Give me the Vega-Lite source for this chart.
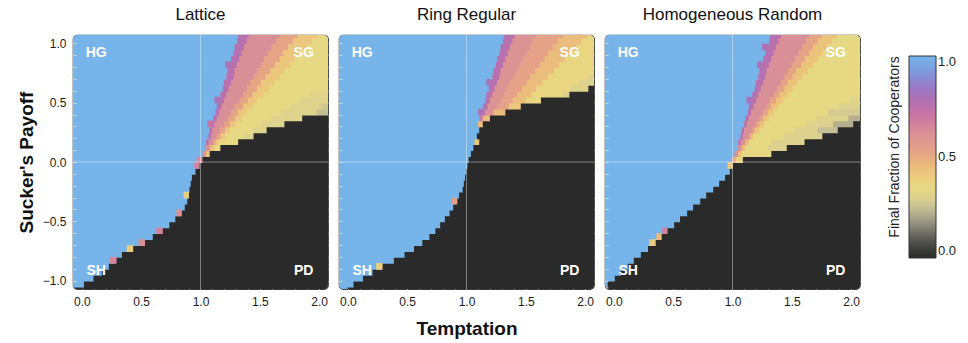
{
  "$schema": "https://vega.github.io/schema/vega-lite/v6.json",
  "padding": {"left": 16, "top": 4, "right": 4, "bottom": 2},
  "spacing": 7,
  "config": {
    "font": "Liberation Sans",
    "view": {"stroke": "#3a3a3a", "strokeWidth": 1.2, "cornerRadius": 4},
    "axis": {"domain": false, "grid": false, "tickColor": "#e8e8e8", "tickOpacity": 0.75, "tickWidth": 1, "labelFont": "Liberation Sans", "labelFontSize": 12, "labelColor": "#1a1a1a", "titleFont": "Liberation Sans", "titleFontSize": 19, "titleFontWeight": "bold", "titleColor": "#111111"},
    "title": {"fontSize": 17, "fontWeight": "normal", "font": "Liberation Sans", "color": "#111111", "offset": 11},
    "legend": {"titleOrient": "left", "titleAnchor": "middle", "titleFontSize": 14, "titleFontWeight": "normal", "titleColor": "#222222", "titlePadding": 6, "titleLimit": 260, "labelFontSize": 13, "labelColor": "#222222", "labelOffset": 8, "gradientLength": 202, "gradientThickness": 27, "gradientStrokeColor": "#333333", "gradientStrokeWidth": 1, "padding": 21, "offset": 5}
  },
  "datasets": {
    "games": [
      {"game": "HG", "t": 0.12, "s": 0.92},
      {"game": "SG", "t": 1.87, "s": 0.92},
      {"game": "SH", "t": 0.12, "s": -0.92},
      {"game": "PD", "t": 1.87, "s": -0.92}
    ],
    "lattice": [
      {"s":-1.1,"t0":-0.1,"t1":-0.06,"v":1},{"s":-1.1,"t0":-0.06,"t1":2.1,"v":0},
      {"s":-1.05,"t0":-0.1,"t1":0.02,"v":1},{"s":-1.05,"t0":0.02,"t1":2.1,"v":0},
      {"s":-1,"t0":-0.1,"t1":0.1,"v":1},{"s":-1,"t0":0.1,"t1":2.1,"v":0},
      {"s":-0.95,"t0":-0.1,"t1":0.17,"v":1},{"s":-0.95,"t0":0.17,"t1":2.1,"v":0},
      {"s":-0.9,"t0":-0.1,"t1":0.23,"v":1},{"s":-0.9,"t0":0.23,"t1":2.1,"v":0},
      {"s":-0.85,"t0":-0.1,"t1":0.28,"v":1},{"s":-0.85,"t0":0.28,"t1":2.1,"v":0},
      {"s":-0.8,"t0":-0.1,"t1":0.34,"v":1},{"s":-0.8,"t0":0.34,"t1":2.1,"v":0},
      {"s":-0.75,"t0":-0.1,"t1":0.43,"v":1},{"s":-0.75,"t0":0.43,"t1":2.1,"v":0},
      {"s":-0.7,"t0":-0.1,"t1":0.52,"v":1},{"s":-0.7,"t0":0.52,"t1":2.1,"v":0},
      {"s":-0.65,"t0":-0.1,"t1":0.6,"v":1},{"s":-0.65,"t0":0.6,"t1":2.1,"v":0},
      {"s":-0.6,"t0":-0.1,"t1":0.67,"v":1},{"s":-0.6,"t0":0.67,"t1":2.1,"v":0},
      {"s":-0.55,"t0":-0.1,"t1":0.74,"v":1},{"s":-0.55,"t0":0.74,"t1":2.1,"v":0},
      {"s":-0.5,"t0":-0.1,"t1":0.79,"v":1},{"s":-0.5,"t0":0.79,"t1":2.1,"v":0},
      {"s":-0.45,"t0":-0.1,"t1":0.84,"v":1},{"s":-0.45,"t0":0.84,"t1":2.1,"v":0},
      {"s":-0.4,"t0":-0.1,"t1":0.87,"v":1},{"s":-0.4,"t0":0.87,"t1":2.1,"v":0},
      {"s":-0.35,"t0":-0.1,"t1":0.89,"v":1},{"s":-0.35,"t0":0.89,"t1":2.1,"v":0},
      {"s":-0.3,"t0":-0.1,"t1":0.9,"v":1},{"s":-0.3,"t0":0.9,"t1":2.1,"v":0},
      {"s":-0.25,"t0":-0.1,"t1":0.91,"v":1},{"s":-0.25,"t0":0.91,"t1":2.1,"v":0},
      {"s":-0.2,"t0":-0.1,"t1":0.92,"v":1},{"s":-0.2,"t0":0.92,"t1":2.1,"v":0},
      {"s":-0.15,"t0":-0.1,"t1":0.93,"v":1},{"s":-0.15,"t0":0.93,"t1":2.1,"v":0},
      {"s":-0.1,"t0":-0.1,"t1":0.96,"v":1},{"s":-0.1,"t0":0.96,"t1":2.1,"v":0},
      {"s":-0.05,"t0":-0.1,"t1":0.99,"v":1},{"s":-0.05,"t0":0.99,"t1":2.1,"v":0},
      {"s":0,"t0":-0.1,"t1":0.97,"v":1},{"s":0,"t0":0.97,"t1":1.02,"v":0.62},{"s":0,"t0":1.02,"t1":2.1,"v":0},
      {"s":0.05,"t0":-0.1,"t1":1.02,"v":1},{"s":0.05,"t0":1.02,"t1":1.05,"v":0.6},{"s":0.05,"t0":1.05,"t1":1.08,"v":0.42},{"s":0.05,"t0":1.08,"t1":2.1,"v":0},
      {"s":0.1,"t0":-0.1,"t1":1.04,"v":1},{"s":0.1,"t0":1.04,"t1":1.08,"v":0.62},{"s":0.1,"t0":1.08,"t1":1.12,"v":0.45},{"s":0.1,"t0":1.12,"t1":1.17,"v":0.36},{"s":0.1,"t0":1.17,"t1":2.1,"v":0},
      {"s":0.15,"t0":-0.1,"t1":1.05,"v":1},{"s":0.15,"t0":1.05,"t1":1.07,"v":0.76},{"s":0.15,"t0":1.07,"t1":1.11,"v":0.62},{"s":0.15,"t0":1.11,"t1":1.13,"v":0.52},{"s":0.15,"t0":1.13,"t1":1.16,"v":0.42},{"s":0.15,"t0":1.16,"t1":1.32,"v":0.35},{"s":0.15,"t0":1.32,"t1":2.1,"v":0},
      {"s":0.2,"t0":-0.1,"t1":1.07,"v":1},{"s":0.2,"t0":1.07,"t1":1.09,"v":0.76},{"s":0.2,"t0":1.09,"t1":1.14,"v":0.62},{"s":0.2,"t0":1.14,"t1":1.17,"v":0.52},{"s":0.2,"t0":1.17,"t1":1.21,"v":0.42},{"s":0.2,"t0":1.21,"t1":1.36,"v":0.35},{"s":0.2,"t0":1.36,"t1":1.45,"v":0.31},{"s":0.2,"t0":1.45,"t1":2.1,"v":0},
      {"s":0.25,"t0":-0.1,"t1":1.08,"v":1},{"s":0.25,"t0":1.08,"t1":1.1,"v":0.76},{"s":0.25,"t0":1.1,"t1":1.17,"v":0.62},{"s":0.25,"t0":1.17,"t1":1.21,"v":0.52},{"s":0.25,"t0":1.21,"t1":1.25,"v":0.42},{"s":0.25,"t0":1.25,"t1":1.44,"v":0.35},{"s":0.25,"t0":1.44,"t1":1.56,"v":0.31},{"s":0.25,"t0":1.56,"t1":2.1,"v":0},
      {"s":0.3,"t0":-0.1,"t1":1.1,"v":1},{"s":0.3,"t0":1.1,"t1":1.12,"v":0.76},{"s":0.3,"t0":1.12,"t1":1.2,"v":0.62},{"s":0.3,"t0":1.2,"t1":1.25,"v":0.52},{"s":0.3,"t0":1.25,"t1":1.3,"v":0.42},{"s":0.3,"t0":1.3,"t1":1.52,"v":0.35},{"s":0.3,"t0":1.52,"t1":1.71,"v":0.31},{"s":0.3,"t0":1.71,"t1":2.1,"v":0},
      {"s":0.35,"t0":-0.1,"t1":1.11,"v":1},{"s":0.35,"t0":1.11,"t1":1.14,"v":0.76},{"s":0.35,"t0":1.14,"t1":1.23,"v":0.62},{"s":0.35,"t0":1.23,"t1":1.29,"v":0.52},{"s":0.35,"t0":1.29,"t1":1.35,"v":0.42},{"s":0.35,"t0":1.35,"t1":1.6,"v":0.35},{"s":0.35,"t0":1.6,"t1":1.86,"v":0.31},{"s":0.35,"t0":1.86,"t1":2.1,"v":0},
      {"s":0.4,"t0":-0.1,"t1":1.13,"v":1},{"s":0.4,"t0":1.13,"t1":1.16,"v":0.76},{"s":0.4,"t0":1.16,"t1":1.26,"v":0.62},{"s":0.4,"t0":1.26,"t1":1.32,"v":0.52},{"s":0.4,"t0":1.32,"t1":1.39,"v":0.42},{"s":0.4,"t0":1.39,"t1":1.68,"v":0.35},{"s":0.4,"t0":1.68,"t1":1.98,"v":0.31},{"s":0.4,"t0":1.98,"t1":2.1,"v":0.25},
      {"s":0.45,"t0":-0.1,"t1":1.14,"v":1},{"s":0.45,"t0":1.14,"t1":1.18,"v":0.76},{"s":0.45,"t0":1.18,"t1":1.29,"v":0.62},{"s":0.45,"t0":1.29,"t1":1.36,"v":0.52},{"s":0.45,"t0":1.36,"t1":1.44,"v":0.42},{"s":0.45,"t0":1.44,"t1":1.76,"v":0.35},{"s":0.45,"t0":1.76,"t1":2.02,"v":0.31},{"s":0.45,"t0":2.02,"t1":2.1,"v":0.27},
      {"s":0.5,"t0":-0.1,"t1":1.16,"v":1},{"s":0.5,"t0":1.16,"t1":1.2,"v":0.76},{"s":0.5,"t0":1.2,"t1":1.33,"v":0.62},{"s":0.5,"t0":1.33,"t1":1.4,"v":0.52},{"s":0.5,"t0":1.4,"t1":1.48,"v":0.42},{"s":0.5,"t0":1.48,"t1":1.84,"v":0.35},{"s":0.5,"t0":1.84,"t1":2.1,"v":0.31},
      {"s":0.55,"t0":-0.1,"t1":1.17,"v":1},{"s":0.55,"t0":1.17,"t1":1.22,"v":0.76},{"s":0.55,"t0":1.22,"t1":1.36,"v":0.62},{"s":0.55,"t0":1.36,"t1":1.44,"v":0.52},{"s":0.55,"t0":1.44,"t1":1.53,"v":0.42},{"s":0.55,"t0":1.53,"t1":1.92,"v":0.35},{"s":0.55,"t0":1.92,"t1":2.1,"v":0.32},
      {"s":0.6,"t0":-0.1,"t1":1.19,"v":1},{"s":0.6,"t0":1.19,"t1":1.24,"v":0.76},{"s":0.6,"t0":1.24,"t1":1.39,"v":0.62},{"s":0.6,"t0":1.39,"t1":1.48,"v":0.52},{"s":0.6,"t0":1.48,"t1":1.58,"v":0.42},{"s":0.6,"t0":1.58,"t1":2.1,"v":0.35},
      {"s":0.65,"t0":-0.1,"t1":1.2,"v":1},{"s":0.65,"t0":1.2,"t1":1.26,"v":0.76},{"s":0.65,"t0":1.26,"t1":1.42,"v":0.62},{"s":0.65,"t0":1.42,"t1":1.51,"v":0.52},{"s":0.65,"t0":1.51,"t1":1.62,"v":0.42},{"s":0.65,"t0":1.62,"t1":2.1,"v":0.35},
      {"s":0.7,"t0":-0.1,"t1":1.22,"v":1},{"s":0.7,"t0":1.22,"t1":1.28,"v":0.76},{"s":0.7,"t0":1.28,"t1":1.45,"v":0.62},{"s":0.7,"t0":1.45,"t1":1.55,"v":0.52},{"s":0.7,"t0":1.55,"t1":1.67,"v":0.42},{"s":0.7,"t0":1.67,"t1":2.1,"v":0.35},
      {"s":0.75,"t0":-0.1,"t1":1.23,"v":1},{"s":0.75,"t0":1.23,"t1":1.29,"v":0.76},{"s":0.75,"t0":1.29,"t1":1.48,"v":0.62},{"s":0.75,"t0":1.48,"t1":1.59,"v":0.52},{"s":0.75,"t0":1.59,"t1":1.71,"v":0.42},{"s":0.75,"t0":1.71,"t1":2.1,"v":0.35},
      {"s":0.8,"t0":-0.1,"t1":1.25,"v":1},{"s":0.8,"t0":1.25,"t1":1.31,"v":0.76},{"s":0.8,"t0":1.31,"t1":1.51,"v":0.62},{"s":0.8,"t0":1.51,"t1":1.63,"v":0.52},{"s":0.8,"t0":1.63,"t1":1.76,"v":0.42},{"s":0.8,"t0":1.76,"t1":2.1,"v":0.35},
      {"s":0.85,"t0":-0.1,"t1":1.26,"v":1},{"s":0.85,"t0":1.26,"t1":1.33,"v":0.76},{"s":0.85,"t0":1.33,"t1":1.54,"v":0.62},{"s":0.85,"t0":1.54,"t1":1.67,"v":0.52},{"s":0.85,"t0":1.67,"t1":1.8,"v":0.42},{"s":0.85,"t0":1.8,"t1":2.1,"v":0.35},
      {"s":0.9,"t0":-0.1,"t1":1.28,"v":1},{"s":0.9,"t0":1.28,"t1":1.35,"v":0.76},{"s":0.9,"t0":1.35,"t1":1.57,"v":0.62},{"s":0.9,"t0":1.57,"t1":1.7,"v":0.52},{"s":0.9,"t0":1.7,"t1":1.85,"v":0.42},{"s":0.9,"t0":1.85,"t1":2.1,"v":0.35},
      {"s":0.95,"t0":-0.1,"t1":1.29,"v":1},{"s":0.95,"t0":1.29,"t1":1.37,"v":0.76},{"s":0.95,"t0":1.37,"t1":1.6,"v":0.62},{"s":0.95,"t0":1.6,"t1":1.74,"v":0.52},{"s":0.95,"t0":1.74,"t1":1.9,"v":0.42},{"s":0.95,"t0":1.9,"t1":2.1,"v":0.35},
      {"s":1,"t0":-0.1,"t1":1.31,"v":1},{"s":1,"t0":1.31,"t1":1.39,"v":0.76},{"s":1,"t0":1.39,"t1":1.64,"v":0.62},{"s":1,"t0":1.64,"t1":1.78,"v":0.52},{"s":1,"t0":1.78,"t1":1.94,"v":0.42},{"s":1,"t0":1.94,"t1":2.1,"v":0.35},
      {"s":1.05,"t0":-0.1,"t1":1.32,"v":1},{"s":1.05,"t0":1.32,"t1":1.41,"v":0.76},{"s":1.05,"t0":1.41,"t1":1.67,"v":0.62},{"s":1.05,"t0":1.67,"t1":1.82,"v":0.52},{"s":1.05,"t0":1.82,"t1":1.99,"v":0.42},{"s":1.05,"t0":1.99,"t1":2.1,"v":0.35},
      {"s":-0.85,"t0":0.24,"t1":0.29,"v":0.65},
      {"s":-0.75,"t0":0.38,"t1":0.43,"v":0.4},
      {"s":-0.7,"t0":0.48,"t1":0.53,"v":0.62},
      {"s":-0.6,"t0":0.63,"t1":0.68,"v":0.66},
      {"s":-0.45,"t0":0.8,"t1":0.84,"v":0.6},
      {"s":-0.3,"t0":0.86,"t1":0.9,"v":0.4},
      {"s":-0.05,"t0":0.95,"t1":0.99,"v":0.65},
      {"s":0.3,"t0":1.06,"t1":1.1,"v":0.72},
      {"s":0.5,"t0":1.12,"t1":1.16,"v":0.8},
      {"s":0.8,"t0":1.21,"t1":1.25,"v":0.8}
    ],
    "ring": [
      {"s":-1.1,"t0":-0.1,"t1":0,"v":1},{"s":-1.1,"t0":0,"t1":2.1,"v":0},
      {"s":-1.05,"t0":-0.1,"t1":0.05,"v":1},{"s":-1.05,"t0":0.05,"t1":2.1,"v":0},
      {"s":-1,"t0":-0.1,"t1":0.13,"v":1},{"s":-1,"t0":0.13,"t1":2.1,"v":0},
      {"s":-0.95,"t0":-0.1,"t1":0.21,"v":1},{"s":-0.95,"t0":0.21,"t1":2.1,"v":0},
      {"s":-0.9,"t0":-0.1,"t1":0.29,"v":1},{"s":-0.9,"t0":0.29,"t1":2.1,"v":0},
      {"s":-0.85,"t0":-0.1,"t1":0.39,"v":1},{"s":-0.85,"t0":0.39,"t1":2.1,"v":0},
      {"s":-0.8,"t0":-0.1,"t1":0.48,"v":1},{"s":-0.8,"t0":0.48,"t1":2.1,"v":0},
      {"s":-0.75,"t0":-0.1,"t1":0.56,"v":1},{"s":-0.75,"t0":0.56,"t1":2.1,"v":0},
      {"s":-0.7,"t0":-0.1,"t1":0.63,"v":1},{"s":-0.7,"t0":0.63,"t1":2.1,"v":0},
      {"s":-0.65,"t0":-0.1,"t1":0.69,"v":1},{"s":-0.65,"t0":0.69,"t1":2.1,"v":0},
      {"s":-0.6,"t0":-0.1,"t1":0.74,"v":1},{"s":-0.6,"t0":0.74,"t1":2.1,"v":0},
      {"s":-0.55,"t0":-0.1,"t1":0.78,"v":1},{"s":-0.55,"t0":0.78,"t1":2.1,"v":0},
      {"s":-0.5,"t0":-0.1,"t1":0.82,"v":1},{"s":-0.5,"t0":0.82,"t1":2.1,"v":0},
      {"s":-0.45,"t0":-0.1,"t1":0.86,"v":1},{"s":-0.45,"t0":0.86,"t1":2.1,"v":0},
      {"s":-0.4,"t0":-0.1,"t1":0.89,"v":1},{"s":-0.4,"t0":0.89,"t1":2.1,"v":0},
      {"s":-0.35,"t0":-0.1,"t1":0.91,"v":1},{"s":-0.35,"t0":0.91,"t1":2.1,"v":0},
      {"s":-0.3,"t0":-0.1,"t1":0.94,"v":1},{"s":-0.3,"t0":0.94,"t1":2.1,"v":0},
      {"s":-0.25,"t0":-0.1,"t1":0.97,"v":1},{"s":-0.25,"t0":0.97,"t1":2.1,"v":0},
      {"s":-0.2,"t0":-0.1,"t1":0.98,"v":1},{"s":-0.2,"t0":0.98,"t1":2.1,"v":0},
      {"s":-0.15,"t0":-0.1,"t1":0.99,"v":1},{"s":-0.15,"t0":0.99,"t1":2.1,"v":0},
      {"s":-0.1,"t0":-0.1,"t1":1,"v":1},{"s":-0.1,"t0":1,"t1":2.1,"v":0},
      {"s":-0.05,"t0":-0.1,"t1":1.01,"v":1},{"s":-0.05,"t0":1.01,"t1":2.1,"v":0},
      {"s":0,"t0":-0.1,"t1":1.02,"v":1},{"s":0,"t0":1.02,"t1":2.1,"v":0},
      {"s":0.05,"t0":-0.1,"t1":1.04,"v":1},{"s":0.05,"t0":1.04,"t1":2.1,"v":0},
      {"s":0.1,"t0":-0.1,"t1":1.06,"v":1},{"s":0.1,"t0":1.06,"t1":2.1,"v":0},
      {"s":0.15,"t0":-0.1,"t1":1.07,"v":1},{"s":0.15,"t0":1.07,"t1":1.11,"v":0.42},{"s":0.15,"t0":1.11,"t1":2.1,"v":0},
      {"s":0.2,"t0":-0.1,"t1":1.09,"v":1},{"s":0.2,"t0":1.09,"t1":2.1,"v":0},
      {"s":0.25,"t0":-0.1,"t1":1.11,"v":1},{"s":0.25,"t0":1.11,"t1":2.1,"v":0},
      {"s":0.3,"t0":-0.1,"t1":1.1,"v":1},{"s":0.3,"t0":1.1,"t1":1.14,"v":0.45},{"s":0.3,"t0":1.14,"t1":2.1,"v":0},
      {"s":0.35,"t0":-0.1,"t1":1.11,"v":1},{"s":0.35,"t0":1.11,"t1":1.14,"v":0.7},{"s":0.35,"t0":1.14,"t1":1.2,"v":0.45},{"s":0.35,"t0":1.2,"t1":2.1,"v":0},
      {"s":0.4,"t0":-0.1,"t1":1.13,"v":1},{"s":0.4,"t0":1.13,"t1":1.16,"v":0.76},{"s":0.4,"t0":1.16,"t1":1.23,"v":0.6},{"s":0.4,"t0":1.23,"t1":1.33,"v":0.45},{"s":0.4,"t0":1.33,"t1":2.1,"v":0},
      {"s":0.45,"t0":-0.1,"t1":1.14,"v":1},{"s":0.45,"t0":1.14,"t1":1.18,"v":0.76},{"s":0.45,"t0":1.18,"t1":1.26,"v":0.6},{"s":0.45,"t0":1.26,"t1":1.36,"v":0.53},{"s":0.45,"t0":1.36,"t1":1.46,"v":0.42},{"s":0.45,"t0":1.46,"t1":2.1,"v":0},
      {"s":0.5,"t0":-0.1,"t1":1.16,"v":1},{"s":0.5,"t0":1.16,"t1":1.2,"v":0.76},{"s":0.5,"t0":1.2,"t1":1.29,"v":0.6},{"s":0.5,"t0":1.29,"t1":1.39,"v":0.53},{"s":0.5,"t0":1.39,"t1":1.5,"v":0.45},{"s":0.5,"t0":1.5,"t1":1.63,"v":0.37},{"s":0.5,"t0":1.63,"t1":2.1,"v":0},
      {"s":0.55,"t0":-0.1,"t1":1.17,"v":1},{"s":0.55,"t0":1.17,"t1":1.22,"v":0.76},{"s":0.55,"t0":1.22,"t1":1.32,"v":0.6},{"s":0.55,"t0":1.32,"t1":1.43,"v":0.53},{"s":0.55,"t0":1.43,"t1":1.55,"v":0.45},{"s":0.55,"t0":1.55,"t1":1.81,"v":0.37},{"s":0.55,"t0":1.81,"t1":1.87,"v":0.31},{"s":0.55,"t0":1.87,"t1":2.1,"v":0},
      {"s":0.6,"t0":-0.1,"t1":1.19,"v":1},{"s":0.6,"t0":1.19,"t1":1.24,"v":0.76},{"s":0.6,"t0":1.24,"t1":1.34,"v":0.6},{"s":0.6,"t0":1.34,"t1":1.47,"v":0.53},{"s":0.6,"t0":1.47,"t1":1.59,"v":0.45},{"s":0.6,"t0":1.59,"t1":1.88,"v":0.37},{"s":0.6,"t0":1.88,"t1":2.03,"v":0.31},{"s":0.6,"t0":2.03,"t1":2.1,"v":0},
      {"s":0.65,"t0":-0.1,"t1":1.2,"v":1},{"s":0.65,"t0":1.2,"t1":1.26,"v":0.76},{"s":0.65,"t0":1.26,"t1":1.37,"v":0.6},{"s":0.65,"t0":1.37,"t1":1.51,"v":0.53},{"s":0.65,"t0":1.51,"t1":1.64,"v":0.45},{"s":0.65,"t0":1.64,"t1":1.95,"v":0.37},{"s":0.65,"t0":1.95,"t1":2.1,"v":0.31},
      {"s":0.7,"t0":-0.1,"t1":1.22,"v":1},{"s":0.7,"t0":1.22,"t1":1.28,"v":0.76},{"s":0.7,"t0":1.28,"t1":1.4,"v":0.6},{"s":0.7,"t0":1.4,"t1":1.54,"v":0.53},{"s":0.7,"t0":1.54,"t1":1.69,"v":0.45},{"s":0.7,"t0":1.69,"t1":2.02,"v":0.37},{"s":0.7,"t0":2.02,"t1":2.1,"v":0.31},
      {"s":0.75,"t0":-0.1,"t1":1.23,"v":1},{"s":0.75,"t0":1.23,"t1":1.29,"v":0.76},{"s":0.75,"t0":1.29,"t1":1.43,"v":0.6},{"s":0.75,"t0":1.43,"t1":1.58,"v":0.53},{"s":0.75,"t0":1.58,"t1":1.74,"v":0.45},{"s":0.75,"t0":1.74,"t1":2.1,"v":0.37},
      {"s":0.8,"t0":-0.1,"t1":1.25,"v":1},{"s":0.8,"t0":1.25,"t1":1.31,"v":0.76},{"s":0.8,"t0":1.31,"t1":1.45,"v":0.6},{"s":0.8,"t0":1.45,"t1":1.62,"v":0.53},{"s":0.8,"t0":1.62,"t1":1.78,"v":0.45},{"s":0.8,"t0":1.78,"t1":2.1,"v":0.37},
      {"s":0.85,"t0":-0.1,"t1":1.26,"v":1},{"s":0.85,"t0":1.26,"t1":1.33,"v":0.76},{"s":0.85,"t0":1.33,"t1":1.48,"v":0.6},{"s":0.85,"t0":1.48,"t1":1.66,"v":0.53},{"s":0.85,"t0":1.66,"t1":1.83,"v":0.45},{"s":0.85,"t0":1.83,"t1":2.1,"v":0.37},
      {"s":0.9,"t0":-0.1,"t1":1.28,"v":1},{"s":0.9,"t0":1.28,"t1":1.35,"v":0.76},{"s":0.9,"t0":1.35,"t1":1.51,"v":0.6},{"s":0.9,"t0":1.51,"t1":1.69,"v":0.53},{"s":0.9,"t0":1.69,"t1":1.88,"v":0.45},{"s":0.9,"t0":1.88,"t1":2.1,"v":0.37},
      {"s":0.95,"t0":-0.1,"t1":1.29,"v":1},{"s":0.95,"t0":1.29,"t1":1.37,"v":0.76},{"s":0.95,"t0":1.37,"t1":1.54,"v":0.6},{"s":0.95,"t0":1.54,"t1":1.73,"v":0.53},{"s":0.95,"t0":1.73,"t1":1.93,"v":0.45},{"s":0.95,"t0":1.93,"t1":2.1,"v":0.37},
      {"s":1,"t0":-0.1,"t1":1.31,"v":1},{"s":1,"t0":1.31,"t1":1.39,"v":0.76},{"s":1,"t0":1.39,"t1":1.56,"v":0.6},{"s":1,"t0":1.56,"t1":1.77,"v":0.53},{"s":1,"t0":1.77,"t1":1.97,"v":0.45},{"s":1,"t0":1.97,"t1":2.1,"v":0.37},
      {"s":1.05,"t0":-0.1,"t1":1.32,"v":1},{"s":1.05,"t0":1.32,"t1":1.41,"v":0.76},{"s":1.05,"t0":1.41,"t1":1.59,"v":0.6},{"s":1.05,"t0":1.59,"t1":1.81,"v":0.53},{"s":1.05,"t0":1.81,"t1":2.02,"v":0.45},{"s":1.05,"t0":2.02,"t1":2.1,"v":0.37},
      {"s":-0.35,"t0":0.88,"t1":0.92,"v":0.55},
      {"s":-0.9,"t0":0.24,"t1":0.29,"v":0.4},
      {"s":0.4,"t0":1.1,"t1":1.13,"v":0.8},
      {"s":0.65,"t0":1.17,"t1":1.2,"v":0.8}
    ],
    "random": [
      {"s":-1.1,"t0":-0.1,"t1":2.1,"v":0},
      {"s":-1.05,"t0":-0.1,"t1":-0.05,"v":1},{"s":-1.05,"t0":-0.05,"t1":2.1,"v":0},
      {"s":-1,"t0":-0.1,"t1":0.01,"v":1},{"s":-1,"t0":0.01,"t1":2.1,"v":0},
      {"s":-0.95,"t0":-0.1,"t1":0.06,"v":1},{"s":-0.95,"t0":0.06,"t1":2.1,"v":0},
      {"s":-0.9,"t0":-0.1,"t1":0.12,"v":1},{"s":-0.9,"t0":0.12,"t1":2.1,"v":0},
      {"s":-0.85,"t0":-0.1,"t1":0.17,"v":1},{"s":-0.85,"t0":0.17,"t1":2.1,"v":0},
      {"s":-0.8,"t0":-0.1,"t1":0.23,"v":1},{"s":-0.8,"t0":0.23,"t1":2.1,"v":0},
      {"s":-0.75,"t0":-0.1,"t1":0.29,"v":1},{"s":-0.75,"t0":0.29,"t1":2.1,"v":0},
      {"s":-0.7,"t0":-0.1,"t1":0.34,"v":1},{"s":-0.7,"t0":0.34,"t1":2.1,"v":0},
      {"s":-0.65,"t0":-0.1,"t1":0.4,"v":1},{"s":-0.65,"t0":0.4,"t1":2.1,"v":0},
      {"s":-0.6,"t0":-0.1,"t1":0.45,"v":1},{"s":-0.6,"t0":0.45,"t1":2.1,"v":0},
      {"s":-0.55,"t0":-0.1,"t1":0.51,"v":1},{"s":-0.55,"t0":0.51,"t1":2.1,"v":0},
      {"s":-0.5,"t0":-0.1,"t1":0.56,"v":1},{"s":-0.5,"t0":0.56,"t1":2.1,"v":0},
      {"s":-0.45,"t0":-0.1,"t1":0.62,"v":1},{"s":-0.45,"t0":0.62,"t1":2.1,"v":0},
      {"s":-0.4,"t0":-0.1,"t1":0.67,"v":1},{"s":-0.4,"t0":0.67,"t1":2.1,"v":0},
      {"s":-0.35,"t0":-0.1,"t1":0.73,"v":1},{"s":-0.35,"t0":0.73,"t1":2.1,"v":0},
      {"s":-0.3,"t0":-0.1,"t1":0.78,"v":1},{"s":-0.3,"t0":0.78,"t1":2.1,"v":0},
      {"s":-0.25,"t0":-0.1,"t1":0.84,"v":1},{"s":-0.25,"t0":0.84,"t1":2.1,"v":0},
      {"s":-0.2,"t0":-0.1,"t1":0.89,"v":1},{"s":-0.2,"t0":0.89,"t1":2.1,"v":0},
      {"s":-0.15,"t0":-0.1,"t1":0.94,"v":1},{"s":-0.15,"t0":0.94,"t1":2.1,"v":0},
      {"s":-0.1,"t0":-0.1,"t1":0.98,"v":1},{"s":-0.1,"t0":0.98,"t1":2.1,"v":0},
      {"s":-0.05,"t0":-0.1,"t1":1,"v":1},{"s":-0.05,"t0":1,"t1":2.1,"v":0},
      {"s":0,"t0":-0.1,"t1":1,"v":1},{"s":0,"t0":1,"t1":1.03,"v":0.5},{"s":0,"t0":1.03,"t1":1.09,"v":0.38},{"s":0,"t0":1.09,"t1":2.1,"v":0},
      {"s":0.05,"t0":-0.1,"t1":1.02,"v":1},{"s":0.05,"t0":1.02,"t1":1.05,"v":0.6},{"s":0.05,"t0":1.05,"t1":1.08,"v":0.45},{"s":0.05,"t0":1.08,"t1":1.33,"v":0.35},{"s":0.05,"t0":1.33,"t1":2.1,"v":0},
      {"s":0.1,"t0":-0.1,"t1":1.04,"v":1},{"s":0.1,"t0":1.04,"t1":1.08,"v":0.62},{"s":0.1,"t0":1.08,"t1":1.11,"v":0.45},{"s":0.1,"t0":1.11,"t1":1.3,"v":0.35},{"s":0.1,"t0":1.3,"t1":1.46,"v":0.3},{"s":0.1,"t0":1.46,"t1":2.1,"v":0},
      {"s":0.15,"t0":-0.1,"t1":1.05,"v":1},{"s":0.15,"t0":1.05,"t1":1.07,"v":0.76},{"s":0.15,"t0":1.07,"t1":1.11,"v":0.62},{"s":0.15,"t0":1.11,"t1":1.14,"v":0.47},{"s":0.15,"t0":1.14,"t1":1.33,"v":0.35},{"s":0.15,"t0":1.33,"t1":1.61,"v":0.3},{"s":0.15,"t0":1.61,"t1":2.1,"v":0},
      {"s":0.2,"t0":-0.1,"t1":1.07,"v":1},{"s":0.2,"t0":1.07,"t1":1.09,"v":0.76},{"s":0.2,"t0":1.09,"t1":1.14,"v":0.62},{"s":0.2,"t0":1.14,"t1":1.16,"v":0.52},{"s":0.2,"t0":1.16,"t1":1.18,"v":0.43},{"s":0.2,"t0":1.18,"t1":1.43,"v":0.35},{"s":0.2,"t0":1.43,"t1":1.76,"v":0.3},{"s":0.2,"t0":1.76,"t1":2.1,"v":0},
      {"s":0.25,"t0":-0.1,"t1":1.08,"v":1},{"s":0.25,"t0":1.08,"t1":1.1,"v":0.76},{"s":0.25,"t0":1.1,"t1":1.17,"v":0.62},{"s":0.25,"t0":1.17,"t1":1.19,"v":0.52},{"s":0.25,"t0":1.19,"t1":1.23,"v":0.43},{"s":0.25,"t0":1.23,"t1":1.52,"v":0.35},{"s":0.25,"t0":1.52,"t1":1.72,"v":0.3},{"s":0.25,"t0":1.72,"t1":1.89,"v":0.25},{"s":0.25,"t0":1.89,"t1":2.1,"v":0},
      {"s":0.3,"t0":-0.1,"t1":1.1,"v":1},{"s":0.3,"t0":1.1,"t1":1.12,"v":0.76},{"s":0.3,"t0":1.12,"t1":1.2,"v":0.62},{"s":0.3,"t0":1.2,"t1":1.23,"v":0.52},{"s":0.3,"t0":1.23,"t1":1.27,"v":0.43},{"s":0.3,"t0":1.27,"t1":1.62,"v":0.35},{"s":0.3,"t0":1.62,"t1":1.85,"v":0.3},{"s":0.3,"t0":1.85,"t1":2.02,"v":0.22},{"s":0.3,"t0":2.02,"t1":2.1,"v":0},
      {"s":0.35,"t0":-0.1,"t1":1.11,"v":1},{"s":0.35,"t0":1.11,"t1":1.14,"v":0.76},{"s":0.35,"t0":1.14,"t1":1.23,"v":0.62},{"s":0.35,"t0":1.23,"t1":1.26,"v":0.52},{"s":0.35,"t0":1.26,"t1":1.31,"v":0.43},{"s":0.35,"t0":1.31,"t1":1.71,"v":0.35},{"s":0.35,"t0":1.71,"t1":1.98,"v":0.3},{"s":0.35,"t0":1.98,"t1":2.1,"v":0.22},
      {"s":0.4,"t0":-0.1,"t1":1.13,"v":1},{"s":0.4,"t0":1.13,"t1":1.16,"v":0.76},{"s":0.4,"t0":1.16,"t1":1.26,"v":0.62},{"s":0.4,"t0":1.26,"t1":1.3,"v":0.52},{"s":0.4,"t0":1.3,"t1":1.35,"v":0.43},{"s":0.4,"t0":1.35,"t1":1.81,"v":0.35},{"s":0.4,"t0":1.81,"t1":2.1,"v":0.28},
      {"s":0.45,"t0":-0.1,"t1":1.14,"v":1},{"s":0.45,"t0":1.14,"t1":1.18,"v":0.76},{"s":0.45,"t0":1.18,"t1":1.29,"v":0.62},{"s":0.45,"t0":1.29,"t1":1.33,"v":0.52},{"s":0.45,"t0":1.33,"t1":1.39,"v":0.43},{"s":0.45,"t0":1.39,"t1":1.9,"v":0.35},{"s":0.45,"t0":1.9,"t1":2.1,"v":0.3},
      {"s":0.5,"t0":-0.1,"t1":1.16,"v":1},{"s":0.5,"t0":1.16,"t1":1.2,"v":0.76},{"s":0.5,"t0":1.2,"t1":1.32,"v":0.62},{"s":0.5,"t0":1.32,"t1":1.37,"v":0.52},{"s":0.5,"t0":1.37,"t1":1.43,"v":0.43},{"s":0.5,"t0":1.43,"t1":2,"v":0.35},{"s":0.5,"t0":2,"t1":2.1,"v":0.31},
      {"s":0.55,"t0":-0.1,"t1":1.17,"v":1},{"s":0.55,"t0":1.17,"t1":1.22,"v":0.76},{"s":0.55,"t0":1.22,"t1":1.35,"v":0.62},{"s":0.55,"t0":1.35,"t1":1.4,"v":0.52},{"s":0.55,"t0":1.4,"t1":1.47,"v":0.43},{"s":0.55,"t0":1.47,"t1":2.1,"v":0.35},
      {"s":0.6,"t0":-0.1,"t1":1.19,"v":1},{"s":0.6,"t0":1.19,"t1":1.24,"v":0.76},{"s":0.6,"t0":1.24,"t1":1.38,"v":0.62},{"s":0.6,"t0":1.38,"t1":1.44,"v":0.52},{"s":0.6,"t0":1.44,"t1":1.51,"v":0.43},{"s":0.6,"t0":1.51,"t1":2.1,"v":0.35},
      {"s":0.65,"t0":-0.1,"t1":1.2,"v":1},{"s":0.65,"t0":1.2,"t1":1.26,"v":0.76},{"s":0.65,"t0":1.26,"t1":1.41,"v":0.62},{"s":0.65,"t0":1.41,"t1":1.47,"v":0.52},{"s":0.65,"t0":1.47,"t1":1.55,"v":0.43},{"s":0.65,"t0":1.55,"t1":2.1,"v":0.35},
      {"s":0.7,"t0":-0.1,"t1":1.22,"v":1},{"s":0.7,"t0":1.22,"t1":1.28,"v":0.76},{"s":0.7,"t0":1.28,"t1":1.44,"v":0.62},{"s":0.7,"t0":1.44,"t1":1.51,"v":0.52},{"s":0.7,"t0":1.51,"t1":1.59,"v":0.43},{"s":0.7,"t0":1.59,"t1":2.1,"v":0.35},
      {"s":0.75,"t0":-0.1,"t1":1.23,"v":1},{"s":0.75,"t0":1.23,"t1":1.29,"v":0.76},{"s":0.75,"t0":1.29,"t1":1.47,"v":0.62},{"s":0.75,"t0":1.47,"t1":1.54,"v":0.52},{"s":0.75,"t0":1.54,"t1":1.64,"v":0.43},{"s":0.75,"t0":1.64,"t1":2.1,"v":0.35},
      {"s":0.8,"t0":-0.1,"t1":1.25,"v":1},{"s":0.8,"t0":1.25,"t1":1.31,"v":0.76},{"s":0.8,"t0":1.31,"t1":1.5,"v":0.62},{"s":0.8,"t0":1.5,"t1":1.58,"v":0.52},{"s":0.8,"t0":1.58,"t1":1.68,"v":0.43},{"s":0.8,"t0":1.68,"t1":2.1,"v":0.35},
      {"s":0.85,"t0":-0.1,"t1":1.26,"v":1},{"s":0.85,"t0":1.26,"t1":1.33,"v":0.76},{"s":0.85,"t0":1.33,"t1":1.53,"v":0.62},{"s":0.85,"t0":1.53,"t1":1.61,"v":0.52},{"s":0.85,"t0":1.61,"t1":1.72,"v":0.43},{"s":0.85,"t0":1.72,"t1":2.1,"v":0.35},
      {"s":0.9,"t0":-0.1,"t1":1.28,"v":1},{"s":0.9,"t0":1.28,"t1":1.35,"v":0.76},{"s":0.9,"t0":1.35,"t1":1.56,"v":0.62},{"s":0.9,"t0":1.56,"t1":1.65,"v":0.52},{"s":0.9,"t0":1.65,"t1":1.76,"v":0.43},{"s":0.9,"t0":1.76,"t1":2.1,"v":0.35},
      {"s":0.95,"t0":-0.1,"t1":1.29,"v":1},{"s":0.95,"t0":1.29,"t1":1.37,"v":0.76},{"s":0.95,"t0":1.37,"t1":1.59,"v":0.62},{"s":0.95,"t0":1.59,"t1":1.68,"v":0.52},{"s":0.95,"t0":1.68,"t1":1.8,"v":0.43},{"s":0.95,"t0":1.8,"t1":2.1,"v":0.35},
      {"s":1,"t0":-0.1,"t1":1.31,"v":1},{"s":1,"t0":1.31,"t1":1.39,"v":0.76},{"s":1,"t0":1.39,"t1":1.62,"v":0.62},{"s":1,"t0":1.62,"t1":1.72,"v":0.52},{"s":1,"t0":1.72,"t1":1.84,"v":0.43},{"s":1,"t0":1.84,"t1":2.1,"v":0.35},
      {"s":1.05,"t0":-0.1,"t1":1.32,"v":1},{"s":1.05,"t0":1.32,"t1":1.41,"v":0.76},{"s":1.05,"t0":1.41,"t1":1.65,"v":0.62},{"s":1.05,"t0":1.65,"t1":1.75,"v":0.52},{"s":1.05,"t0":1.75,"t1":1.88,"v":0.43},{"s":1.05,"t0":1.88,"t1":2.1,"v":0.35},
      {"s":-1.1,"t0":-0.1,"t1":-0.05,"v":0.62},
      {"s":-0.7,"t0":0.3,"t1":0.35,"v":0.4},
      {"s":-0.65,"t0":0.36,"t1":0.4,"v":0.45},
      {"s":-0.6,"t0":0.41,"t1":0.45,"v":0.66},
      {"s":-0.05,"t0":0.96,"t1":1,"v":0.42},
      {"s":0.5,"t0":1.12,"t1":1.16,"v":0.8},
      {"s":0.8,"t0":1.21,"t1":1.25,"v":0.8},
      {"s":0.95,"t0":1.25,"t1":1.29,"v":0.8}
    ]
  },
  "hconcat": [
    {
      "width": 255, "height": 254,
      "title": "Lattice",
      "resolve": {"axis": {"x": "independent", "y": "independent"}},
      "layer": [
        {
          "data": {"name": "lattice"},
          "mark": {"type": "rect", "clip": true, "binSpacing": 0, "xOffset": -0.3, "x2Offset": 0.3, "yOffset": -0.4, "y2Offset": 0.4},
          "encoding": {
            "x": {"field": "t0", "type": "quantitative", "scale": {"domain": [-0.075, 2.075], "nice": false, "zero": false},
                  "axis": {"orient": "bottom", "values": [0,0.1,0.2,0.3,0.4,0.5,0.6,0.7,0.8,0.9,1,1.1,1.2,1.3,1.4,1.5,1.6,1.7,1.8,1.9,2], "tickSize": -3, "labelOverlap": false, "labelPadding": 10, "labelExpr": "abs(datum.value * 2 - round(datum.value * 2)) < 0.001 ? format(datum.value, '.1f') : ''", "title": null}},
            "x2": {"field": "t1"},
            "y": {"field": "s", "type": "quantitative", "bin": {"binned": true, "step": 0.05}, "scale": {"domain": [-1.07, 1.07], "nice": false, "zero": false},
                  "axis": {"orient": "left", "values": [-1,-0.9,-0.8,-0.7,-0.6,-0.5,-0.4,-0.3,-0.2,-0.1,0,0.1,0.2,0.3,0.4,0.5,0.6,0.7,0.8,0.9,1], "tickSize": -3, "labelOverlap": false, "labelPadding": 10, "labelExpr": "abs(datum.value * 2 - round(datum.value * 2)) < 0.001 ? format(datum.value, '.1f') : ''", "title": "Sucker's Payoff", "titlePadding": 6}},
            "color": {"field": "v", "type": "quantitative",
                      "scale": {"domain": [0, 0.08, 0.16, 0.24, 0.3, 0.36, 0.44, 0.52, 0.62, 0.7, 0.78, 0.86, 0.93, 1], "range": ["#2a2a2a", "#4f4e4b", "#8c897b", "#c2bc96", "#dcd28e", "#e9d982", "#ecc07a", "#e6a486", "#d98f98", "#cc76a2", "#b06fb2", "#937ecb", "#7c9ede", "#76b4ea"], "interpolate": "rgb"},
                      "legend": {"title": "Final Fraction of Cooperators", "values": [0, 0.5, 1], "format": ".1f", "orient": "right"}}
          }
        },
        {
          "data": {"name": "games"},
          "mark": {"type": "text", "color": "white", "fontWeight": "bold", "fontSize": 14},
          "encoding": {
            "x": {"field": "t", "type": "quantitative", "scale": {"domain": [-0.075, 2.075], "nice": false, "zero": false}, "axis": {"orient": "bottom", "values": [0, 0.5, 1, 1.5, 2], "tickSize": -6, "labels": false, "title": null}},
            "y": {"field": "s", "type": "quantitative", "scale": {"domain": [-1.07, 1.07], "nice": false, "zero": false}, "axis": {"orient": "left", "values": [-1, -0.5, 0, 0.5, 1], "tickSize": -6, "labels": false, "title": null}},
            "text": {"field": "game"}
          }
        },
        {
          "data": {"values": [{}]},
          "mark": {"type": "rule", "color": "white", "opacity": 0.4, "strokeWidth": 1},
          "encoding": {"x": {"datum": 1, "type": "quantitative", "scale": {"domain": [-0.075, 2.075], "nice": false, "zero": false}, "axis": {"orient": "top", "values": [0,0.1,0.2,0.3,0.4,0.5,0.6,0.7,0.8,0.9,1,1.1,1.2,1.3,1.4,1.5,1.6,1.7,1.8,1.9,2], "tickSize": -3, "labels": false, "title": null}}}
        },
        {
          "data": {"values": [{}]},
          "mark": {"type": "rule", "color": "white", "opacity": 0.4, "strokeWidth": 1},
          "encoding": {"y": {"datum": 0, "type": "quantitative", "scale": {"domain": [-1.07, 1.07], "nice": false, "zero": false}, "axis": {"orient": "right", "values": [-1,-0.9,-0.8,-0.7,-0.6,-0.5,-0.4,-0.3,-0.2,-0.1,0,0.1,0.2,0.3,0.4,0.5,0.6,0.7,0.8,0.9,1], "tickSize": -3, "labels": false, "title": null}}}
        }
      ]
    },
    {
      "width": 255, "height": 254,
      "title": "Ring Regular",
      "resolve": {"axis": {"x": "independent", "y": "independent"}},
      "layer": [
        {
          "data": {"name": "ring"},
          "mark": {"type": "rect", "clip": true, "binSpacing": 0, "xOffset": -0.3, "x2Offset": 0.3, "yOffset": -0.4, "y2Offset": 0.4},
          "encoding": {
            "x": {"field": "t0", "type": "quantitative", "scale": {"domain": [-0.075, 2.075], "nice": false, "zero": false},
                  "axis": {"orient": "bottom", "values": [0,0.1,0.2,0.3,0.4,0.5,0.6,0.7,0.8,0.9,1,1.1,1.2,1.3,1.4,1.5,1.6,1.7,1.8,1.9,2], "tickSize": -3, "labelOverlap": false, "labelPadding": 10, "labelExpr": "abs(datum.value * 2 - round(datum.value * 2)) < 0.001 ? format(datum.value, '.1f') : ''", "title": "Temptation", "titlePadding": 12}},
            "x2": {"field": "t1"},
            "y": {"field": "s", "type": "quantitative", "bin": {"binned": true, "step": 0.05}, "scale": {"domain": [-1.07, 1.07], "nice": false, "zero": false},
                  "axis": {"orient": "left", "values": [-1,-0.9,-0.8,-0.7,-0.6,-0.5,-0.4,-0.3,-0.2,-0.1,0,0.1,0.2,0.3,0.4,0.5,0.6,0.7,0.8,0.9,1], "tickSize": -3, "labels": false, "title": null}},
            "color": {"field": "v", "type": "quantitative",
                      "scale": {"domain": [0, 0.08, 0.16, 0.24, 0.3, 0.36, 0.44, 0.52, 0.62, 0.7, 0.78, 0.86, 0.93, 1], "range": ["#2a2a2a", "#4f4e4b", "#8c897b", "#c2bc96", "#dcd28e", "#e9d982", "#ecc07a", "#e6a486", "#d98f98", "#cc76a2", "#b06fb2", "#937ecb", "#7c9ede", "#76b4ea"], "interpolate": "rgb"},
                      "legend": {"title": "Final Fraction of Cooperators", "values": [0, 0.5, 1], "format": ".1f", "orient": "right"}}
          }
        },
        {
          "data": {"name": "games"},
          "mark": {"type": "text", "color": "white", "fontWeight": "bold", "fontSize": 14},
          "encoding": {
            "x": {"field": "t", "type": "quantitative", "scale": {"domain": [-0.075, 2.075], "nice": false, "zero": false}, "axis": {"orient": "bottom", "values": [0, 0.5, 1, 1.5, 2], "tickSize": -6, "labels": false, "title": null}},
            "y": {"field": "s", "type": "quantitative", "scale": {"domain": [-1.07, 1.07], "nice": false, "zero": false}, "axis": {"orient": "left", "values": [-1, -0.5, 0, 0.5, 1], "tickSize": -6, "labels": false, "title": null}},
            "text": {"field": "game"}
          }
        },
        {
          "data": {"values": [{}]},
          "mark": {"type": "rule", "color": "white", "opacity": 0.4, "strokeWidth": 1},
          "encoding": {"x": {"datum": 1, "type": "quantitative", "scale": {"domain": [-0.075, 2.075], "nice": false, "zero": false}, "axis": {"orient": "top", "values": [0,0.1,0.2,0.3,0.4,0.5,0.6,0.7,0.8,0.9,1,1.1,1.2,1.3,1.4,1.5,1.6,1.7,1.8,1.9,2], "tickSize": -3, "labels": false, "title": null}}}
        },
        {
          "data": {"values": [{}]},
          "mark": {"type": "rule", "color": "white", "opacity": 0.4, "strokeWidth": 1},
          "encoding": {"y": {"datum": 0, "type": "quantitative", "scale": {"domain": [-1.07, 1.07], "nice": false, "zero": false}, "axis": {"orient": "right", "values": [-1,-0.9,-0.8,-0.7,-0.6,-0.5,-0.4,-0.3,-0.2,-0.1,0,0.1,0.2,0.3,0.4,0.5,0.6,0.7,0.8,0.9,1], "tickSize": -3, "labels": false, "title": null}}}
        }
      ]
    },
    {
      "width": 255, "height": 254,
      "title": "Homogeneous Random",
      "resolve": {"axis": {"x": "independent", "y": "independent"}},
      "layer": [
        {
          "data": {"name": "random"},
          "mark": {"type": "rect", "clip": true, "binSpacing": 0, "xOffset": -0.3, "x2Offset": 0.3, "yOffset": -0.4, "y2Offset": 0.4},
          "encoding": {
            "x": {"field": "t0", "type": "quantitative", "scale": {"domain": [-0.075, 2.075], "nice": false, "zero": false},
                  "axis": {"orient": "bottom", "values": [0,0.1,0.2,0.3,0.4,0.5,0.6,0.7,0.8,0.9,1,1.1,1.2,1.3,1.4,1.5,1.6,1.7,1.8,1.9,2], "tickSize": -3, "labelOverlap": false, "labelPadding": 10, "labelExpr": "abs(datum.value * 2 - round(datum.value * 2)) < 0.001 ? format(datum.value, '.1f') : ''", "title": null}},
            "x2": {"field": "t1"},
            "y": {"field": "s", "type": "quantitative", "bin": {"binned": true, "step": 0.05}, "scale": {"domain": [-1.07, 1.07], "nice": false, "zero": false},
                  "axis": {"orient": "left", "values": [-1,-0.9,-0.8,-0.7,-0.6,-0.5,-0.4,-0.3,-0.2,-0.1,0,0.1,0.2,0.3,0.4,0.5,0.6,0.7,0.8,0.9,1], "tickSize": -3, "labels": false, "title": null}},
            "color": {"field": "v", "type": "quantitative",
                      "scale": {"domain": [0, 0.08, 0.16, 0.24, 0.3, 0.36, 0.44, 0.52, 0.62, 0.7, 0.78, 0.86, 0.93, 1], "range": ["#2a2a2a", "#4f4e4b", "#8c897b", "#c2bc96", "#dcd28e", "#e9d982", "#ecc07a", "#e6a486", "#d98f98", "#cc76a2", "#b06fb2", "#937ecb", "#7c9ede", "#76b4ea"], "interpolate": "rgb"},
                      "legend": {"title": "Final Fraction of Cooperators", "values": [0, 0.5, 1], "format": ".1f", "orient": "right"}}
          }
        },
        {
          "data": {"name": "games"},
          "mark": {"type": "text", "color": "white", "fontWeight": "bold", "fontSize": 14},
          "encoding": {
            "x": {"field": "t", "type": "quantitative", "scale": {"domain": [-0.075, 2.075], "nice": false, "zero": false}, "axis": {"orient": "bottom", "values": [0, 0.5, 1, 1.5, 2], "tickSize": -6, "labels": false, "title": null}},
            "y": {"field": "s", "type": "quantitative", "scale": {"domain": [-1.07, 1.07], "nice": false, "zero": false}, "axis": {"orient": "left", "values": [-1, -0.5, 0, 0.5, 1], "tickSize": -6, "labels": false, "title": null}},
            "text": {"field": "game"}
          }
        },
        {
          "data": {"values": [{}]},
          "mark": {"type": "rule", "color": "white", "opacity": 0.4, "strokeWidth": 1},
          "encoding": {"x": {"datum": 1, "type": "quantitative", "scale": {"domain": [-0.075, 2.075], "nice": false, "zero": false}, "axis": {"orient": "top", "values": [0,0.1,0.2,0.3,0.4,0.5,0.6,0.7,0.8,0.9,1,1.1,1.2,1.3,1.4,1.5,1.6,1.7,1.8,1.9,2], "tickSize": -3, "labels": false, "title": null}}}
        },
        {
          "data": {"values": [{}]},
          "mark": {"type": "rule", "color": "white", "opacity": 0.4, "strokeWidth": 1},
          "encoding": {"y": {"datum": 0, "type": "quantitative", "scale": {"domain": [-1.07, 1.07], "nice": false, "zero": false}, "axis": {"orient": "right", "values": [-1,-0.9,-0.8,-0.7,-0.6,-0.5,-0.4,-0.3,-0.2,-0.1,0,0.1,0.2,0.3,0.4,0.5,0.6,0.7,0.8,0.9,1], "tickSize": -3, "labels": false, "title": null}}}
        }
      ]
    }
  ]
}
